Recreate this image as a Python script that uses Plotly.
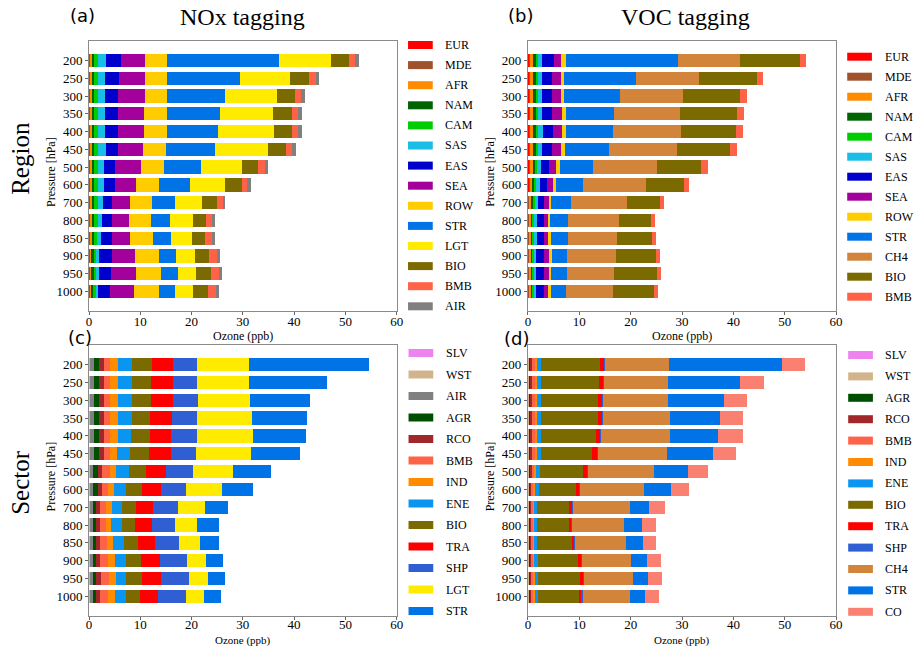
import plotly.graph_objects as go

W, H = 917, 646

pressure = ["200", "250", "300", "350", "400", "450", "500", "600", "700", "800", "850", "900", "950", "1000"]
x_ticks = [0, 10, 20, 30, 40, 50, 60]

# ---------------- (a) NOx tagging, region ----------------
EUR_a = [0.1, 0.1, 0.1, 0.1, 0.1, 0.1, 0.1, 0.1, 0.1, 0.1, 0.1, 0.1, 0.1, 0.1]
MDE_a = [0.2, 0.2, 0.2, 0.2, 0.2, 0.2, 0.2, 0.2, 0.2, 0.2, 0.2, 0.15, 0.15, 0.15]
AFR_a = [0.2, 0.2, 0.2, 0.2, 0.2, 0.2, 0.2, 0.2, 0.2, 0.2, 0.2, 0.2, 0.2, 0.15]
NAM_a = [0.5, 0.5, 0.5, 0.5, 0.5, 0.5, 0.5, 0.5, 0.5, 0.5, 0.45, 0.45, 0.45, 0.45]
CAM_a = [0.7, 0.7, 0.7, 0.7, 0.7, 0.7, 0.7, 0.7, 0.7, 0.7, 0.55, 0.5, 0.5, 0.45]
SAS_a = [1.51, 1.38, 1.38, 1.44, 1.44, 1.57, 1.18, 1.31, 0.93, 0.74, 0.74, 0.52, 0.52, 0.49]
EAS_a = [2.94, 2.75, 2.63, 2.57, 2.57, 2.31, 2.25, 2.12, 1.79, 1.98, 2.31, 2.5, 2.44, 2.38]
SEA_a = [4.81, 5.0, 5.12, 5.0, 4.93, 5.0, 5.0, 4.1, 3.66, 3.4, 3.53, 4.49, 4.81, 4.61]
ROW_a = [4.17, 4.3, 4.36, 4.42, 4.49, 4.42, 4.49, 4.42, 4.29, 4.17, 4.42, 4.74, 4.87, 4.87]
STR_a = [21.92, 14.36, 11.28, 10.38, 10.0, 9.62, 7.3, 6.03, 4.36, 3.72, 3.53, 3.34, 3.27, 3.14]
LGT_a = [10.07, 9.8, 10.13, 10.45, 10.96, 10.38, 7.82, 6.86, 5.39, 4.48, 4.03, 3.59, 3.52, 3.53]
BIO_a = [3.65, 3.53, 3.53, 3.53, 3.46, 3.33, 3.27, 3.2, 2.82, 2.63, 2.57, 2.82, 2.89, 2.82]
BMB_a = [1.15, 1.35, 1.22, 1.22, 1.22, 1.29, 1.28, 1.16, 1.15, 1.15, 1.34, 1.6, 1.66, 1.54]
AIR_a = [0.71, 0.7, 0.83, 0.76, 0.83, 0.83, 0.71, 0.7, 0.51, 0.65, 0.58, 0.58, 0.52, 0.58]

# ---------------- (b) VOC tagging, region ----------------
EUR_b = [0.2, 0.2, 0.2, 0.2, 0.2, 0.2, 0.2, 0.2, 0.15, 0.15, 0.15, 0.15, 0.15, 0.15]
MDE_b = [0.2, 0.2, 0.2, 0.2, 0.2, 0.2, 0.2, 0.2, 0.15, 0.15, 0.15, 0.15, 0.15, 0.15]
AFR_b = [0.65, 0.65, 0.65, 0.65, 0.65, 0.65, 0.55, 0.5, 0.45, 0.4, 0.4, 0.4, 0.4, 0.4]
NAM_b = [0.45, 0.45, 0.45, 0.45, 0.45, 0.45, 0.4, 0.35, 0.33, 0.26, 0.26, 0.26, 0.26, 0.26]
CAM_b = [0.5, 0.5, 0.5, 0.5, 0.5, 0.5, 0.4, 0.35, 0.33, 0.26, 0.26, 0.26, 0.26, 0.26]
SAS_b = [0.82, 0.7, 0.7, 0.7, 0.89, 0.82, 0.77, 0.71, 0.64, 0.64, 0.64, 0.45, 0.45, 0.45]
EAS_b = [2.18, 1.99, 1.99, 2.05, 1.99, 1.87, 1.61, 1.35, 1.1, 1.29, 1.35, 1.54, 1.48, 1.41]
SEA_b = [1.48, 1.66, 1.66, 1.8, 1.8, 1.66, 1.41, 1.22, 0.89, 0.7, 0.71, 0.9, 0.89, 0.84]
ROW_b = [0.84, 0.71, 0.71, 0.77, 0.83, 0.84, 0.64, 0.58, 0.52, 0.51, 0.51, 0.58, 0.52, 0.51]
STR_b = [21.82, 14.06, 10.78, 9.5, 9.11, 8.6, 6.48, 5.26, 3.85, 3.41, 3.34, 3.01, 3.01, 2.95]
CH4_b = [12.13, 12.13, 12.33, 12.83, 13.1, 13.29, 12.46, 12.19, 10.97, 10.01, 9.5, 9.37, 9.25, 9.12]
BIO_b = [11.62, 11.36, 11.17, 11.04, 10.78, 10.27, 8.66, 7.39, 6.29, 6.22, 6.8, 7.83, 8.28, 8.02]
BMB_b = [1.22, 1.22, 1.28, 1.35, 1.35, 1.28, 1.22, 1.02, 0.9, 0.78, 0.77, 0.84, 0.9, 0.83]

# ---------------- (c) NOx tagging, sector ----------------
SLV_c = [0.05, 0.05, 0.05, 0.05, 0.05, 0.05, 0.05, 0.05, 0.05, 0.05, 0.05, 0.05, 0.05, 0.05]
WST_c = [0.15, 0.15, 0.15, 0.15, 0.15, 0.15, 0.15, 0.15, 0.15, 0.15, 0.15, 0.15, 0.15, 0.15]
AIR_c = [0.76, 0.76, 0.76, 0.76, 0.76, 0.76, 0.63, 0.63, 0.5, 0.5, 0.5, 0.5, 0.5, 0.5]
AGR_c = [0.96, 0.96, 0.96, 0.96, 0.96, 0.96, 0.96, 0.83, 0.64, 0.58, 0.64, 0.64, 0.64, 0.64]
RCO_c = [0.96, 0.96, 0.96, 0.96, 0.96, 0.96, 0.83, 0.77, 0.77, 0.83, 0.77, 0.77, 0.9, 0.77]
BMB_c = [1.28, 1.28, 1.28, 1.28, 1.28, 1.28, 1.41, 1.28, 1.28, 1.28, 1.47, 1.6, 1.67, 1.67]
IND_c = [1.47, 1.47, 1.47, 1.47, 1.47, 1.35, 1.28, 1.15, 1.03, 0.96, 1.09, 1.35, 1.28, 1.28]
ENE_c = [2.76, 2.76, 2.76, 2.7, 2.63, 2.56, 2.44, 2.37, 1.99, 1.99, 2.05, 2.05, 2.05, 2.05]
BIO_c = [3.84, 3.65, 3.65, 3.59, 3.53, 3.59, 3.33, 3.08, 2.76, 2.69, 2.76, 3.01, 3.08, 2.82]
TRA_c = [4.23, 4.29, 4.29, 4.29, 4.29, 4.23, 3.97, 3.78, 3.4, 3.21, 3.33, 3.65, 3.72, 3.59]
SHP_c = [4.55, 4.81, 4.87, 4.94, 5.0, 4.94, 5.13, 4.81, 4.81, 4.62, 4.68, 5.26, 5.38, 5.38]
LGT_c = [10.25, 10.0, 10.19, 10.64, 10.9, 10.71, 7.95, 6.99, 5.32, 4.17, 4.17, 3.78, 3.72, 3.59]
STR_c = [23.27, 15.2, 11.73, 10.71, 10.25, 9.55, 7.31, 6.09, 4.43, 4.23, 3.59, 3.27, 3.33, 3.33]

# ---------------- (d) VOC tagging, sector ----------------
SLV_d = [0.1, 0.1, 0.1, 0.1, 0.1, 0.1, 0.1, 0.1, 0.1, 0.1, 0.1, 0.1, 0.1, 0.1]
WST_d = [0.2, 0.2, 0.2, 0.2, 0.2, 0.2, 0.15, 0.15, 0.13, 0.13, 0.13, 0.13, 0.13, 0.13]
AGR_d = [0.2, 0.2, 0.2, 0.2, 0.2, 0.2, 0.2, 0.2, 0.17, 0.17, 0.17, 0.17, 0.17, 0.17]
RCO_d = [0.35, 0.35, 0.35, 0.35, 0.35, 0.35, 0.3, 0.3, 0.28, 0.28, 0.28, 0.28, 0.28, 0.28]
BMB_d = [0.45, 0.45, 0.45, 0.45, 0.45, 0.45, 0.4, 0.35, 0.3, 0.3, 0.3, 0.3, 0.35, 0.35]
IND_d = [0.5, 0.5, 0.5, 0.5, 0.5, 0.5, 0.5, 0.37, 0.3, 0.3, 0.3, 0.3, 0.38, 0.38]
ENE_d = [0.8, 0.8, 0.8, 0.8, 0.8, 0.8, 0.64, 0.64, 0.58, 0.58, 0.58, 0.77, 0.64, 0.64]
BIO_d = [11.47, 11.22, 10.96, 10.96, 10.71, 9.94, 8.53, 7.18, 6.09, 6.09, 6.73, 7.69, 8.08, 7.82]
TRA_d = [0.83, 0.83, 0.96, 0.9, 0.77, 0.9, 0.77, 0.71, 0.64, 0.51, 0.45, 0.64, 0.71, 0.58]
SHP_d = [0.15, 0.13, 0.13, 0.13, 0.19, 0.13, 0.13, 0.13, 0.13, 0.13, 0.19, 0.13, 0.13, 0.19]
CH4_d = [12.44, 12.56, 12.69, 13.01, 13.46, 13.59, 12.76, 12.44, 11.09, 10.19, 9.81, 9.62, 9.49, 9.23]
STR_d = [21.92, 14.04, 10.83, 9.74, 9.36, 8.78, 6.67, 5.32, 3.85, 3.46, 3.27, 3.01, 3.01, 3.01]
CO_d = [4.62, 4.49, 4.49, 4.62, 4.74, 4.62, 3.85, 3.53, 2.95, 2.63, 2.69, 2.69, 2.63, 2.56]

COLORS = {
    "EUR": "#FF0000", "MDE": "#A0522D", "AFR": "#FF8C00", "NAM": "#006400",
    "CAM": "#00CD00", "SAS": "#18BEE6", "EAS": "#0000CD", "SEA": "#A3009C",
    "ROW": "#FFCC00", "STR": "#0073E6", "LGT": "#FFEB00", "BIO": "#7A6A00",
    "BMB": "#FF6347", "AIR": "#808080", "CH4": "#D2843A",
    "SLV": "#EE82EE", "WST": "#D2B48C", "AGR": "#004F00", "RCO": "#A0282A",
    "IND": "#FF8C00", "ENE": "#0A96F0", "TRA": "#FF0000", "SHP": "#2F5FD2",
    "CO": "#FA8072",
}

panels = [
    [("EUR", EUR_a), ("MDE", MDE_a), ("AFR", AFR_a), ("NAM", NAM_a), ("CAM", CAM_a),
     ("SAS", SAS_a), ("EAS", EAS_a), ("SEA", SEA_a), ("ROW", ROW_a), ("STR", STR_a),
     ("LGT", LGT_a), ("BIO", BIO_a), ("BMB", BMB_a), ("AIR", AIR_a)],
    [("EUR", EUR_b), ("MDE", MDE_b), ("AFR", AFR_b), ("NAM", NAM_b), ("CAM", CAM_b),
     ("SAS", SAS_b), ("EAS", EAS_b), ("SEA", SEA_b), ("ROW", ROW_b), ("STR", STR_b),
     ("CH4", CH4_b), ("BIO", BIO_b), ("BMB", BMB_b)],
    [("SLV", SLV_c), ("WST", WST_c), ("AIR", AIR_c), ("AGR", AGR_c), ("RCO", RCO_c),
     ("BMB", BMB_c), ("IND", IND_c), ("ENE", ENE_c), ("BIO", BIO_c), ("TRA", TRA_c),
     ("SHP", SHP_c), ("LGT", LGT_c), ("STR", STR_c)],
    [("SLV", SLV_d), ("WST", WST_d), ("AGR", AGR_d), ("RCO", RCO_d), ("BMB", BMB_d),
     ("IND", IND_d), ("ENE", ENE_d), ("BIO", BIO_d), ("TRA", TRA_d), ("SHP", SHP_d),
     ("CH4", CH4_d), ("STR", STR_d), ("CO", CO_d)],
]

SERIF = "Liberation Serif, Times New Roman, serif"

def px(x):
    return x / W

def py(y):
    return 1 - y / H

# plot-area boxes in pixels: (left, right, top, bottom)
boxes = [(87, 398, 41, 311), (530.7, 842.3, 41, 311), (87, 398, 345, 616), (530.7, 842.3, 345, 616)]
# legend layout: (swatch left, text left, first y, step)
legends = [(409.5, 445, 45, 20.1), (853.5, 889.5, 56.7, 20.0), (410, 446, 353, 21.5), (854.5, 890, 355, 21.4)]
panel_letters = ["(a)", "(b)", "(c)", "(d)"]
letter_pos = [(80, 16), (523, 16), (78, 337), (519, 338)]
xtitle_gap = [25, 25, 24, 24]
xtitle_size = [12, 12, 11, 11]
label_standoff = [-5, -5, -7, -7]

fig = go.Figure()
layout = dict(
    width=W, height=H, margin=dict(l=0, r=0, t=0, b=0),
    paper_bgcolor="white", plot_bgcolor="white",
    barmode="stack", bargap=0.25, showlegend=False,
    font=dict(family=SERIF, size=13, color="black"),
)
shapes = []
annotations = []

for i, (series, box, leg) in enumerate(zip(panels, boxes, legends)):
    n = "" if i == 0 else str(i + 1)
    xa, ya = "x" + n, "y" + n
    for name, vals in series:
        fig.add_trace(go.Bar(
            x=vals, y=pressure, orientation="h", name=name,
            marker=dict(color=COLORS[name], line=dict(width=0)),
            xaxis=xa, yaxis=ya, showlegend=False,
        ))
    l, r, t, b = box
    layout["xaxis" + n] = dict(
        domain=[px(l), px(r)], anchor=ya, range=[0, 60], tickvals=x_ticks,
        ticks="outside", ticklen=3, tickcolor="#666", showline=True, mirror=True,
        linecolor="#8a8a8a", linewidth=1, showgrid=False, zeroline=False,
        ticklabelstandoff=label_standoff[i],
        tickfont=dict(family=SERIF, size=13, color="black"),
    )
    layout["yaxis" + n] = dict(
        domain=[py(b), py(t)], anchor=xa, type="category",
        categoryorder="array", categoryarray=pressure, range=[14.1, -1.1],
        ticks="outside", ticklen=3, tickcolor="#666", showline=True, mirror=True,
        linecolor="#8a8a8a", linewidth=1, showgrid=False, zeroline=False,
        tickfont=dict(family=SERIF, size=13, color="black"),
    )
    # axis titles
    annotations.append(dict(text="Ozone (ppb)", x=px((l + r) / 2), y=py(b + xtitle_gap[i]), xref="paper", yref="paper",
                            showarrow=False, xanchor="center", yanchor="middle",
                            font=dict(family=SERIF, size=xtitle_size[i], color="black")))
    annotations.append(dict(text="Pressure [hPa]", x=px(l - 38.5), y=py((t + b) / 2 - 4), xref="paper", yref="paper",
                            showarrow=False, textangle=-90, xanchor="center", yanchor="middle",
                            font=dict(family=SERIF, size=12, color="black")))
    # panel letter
    lx, ly = letter_pos[i]
    annotations.append(dict(text=panel_letters[i], x=px(lx), y=py(ly), xref="paper", yref="paper",
                            showarrow=False, xanchor="center", yanchor="middle",
                            font=dict(family="DejaVu Sans, Arial, sans-serif", size=18, color="black")))
    # custom legend
    sx, tx, y0, step = leg
    for k, (name, _) in enumerate(series):
        yc = y0 + k * step
        shapes.append(dict(type="rect", xref="paper", yref="paper",
                           x0=px(sx), x1=px(sx + 25), y0=py(yc + 4), y1=py(yc - 4),
                           fillcolor=COLORS[name], line=dict(width=0)))
        annotations.append(dict(text=name, x=px(tx), y=py(yc), xref="paper", yref="paper",
                                showarrow=False, xanchor="left", yanchor="middle",
                                font=dict(family=SERIF, size=12, color="black")))

# column and row titles
annotations.append(dict(text="NOx tagging", x=px(242.5), y=py(17), xref="paper", yref="paper", showarrow=False,
                        xanchor="center", yanchor="middle", font=dict(family=SERIF, size=24, color="black")))
annotations.append(dict(text="VOC tagging", x=px(690), y=py(17), xref="paper", yref="paper", showarrow=False,
                        xanchor="center", yanchor="middle", font=dict(family=SERIF, size=24, color="black")))
annotations.append(dict(text="Region", x=px(18), y=py(158), xref="paper", yref="paper", showarrow=False,
                        textangle=-90, xanchor="center", yanchor="middle",
                        font=dict(family=SERIF, size=25, color="black")))
annotations.append(dict(text="Sector", x=px(18), y=py(482), xref="paper", yref="paper", showarrow=False,
                        textangle=-90, xanchor="center", yanchor="middle",
                        font=dict(family=SERIF, size=25, color="black")))

layout["shapes"] = shapes
layout["annotations"] = annotations
fig.update_layout(**layout)
fig.write_html("out.html",
               config={"displayModeBar": False},
               post_script="document.body.style.margin='0px';document.body.style.overflow='hidden';"
                           "document.documentElement.style.overflow='hidden';")
